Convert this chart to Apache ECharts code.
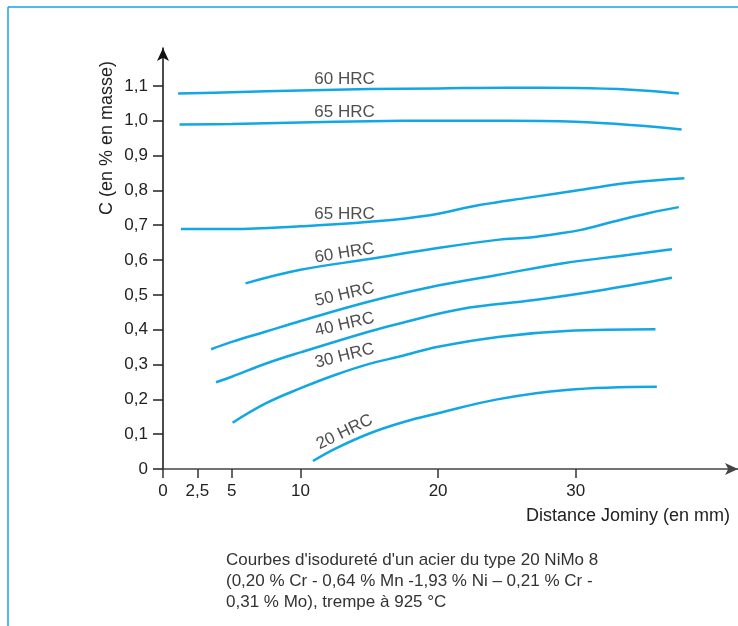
<!DOCTYPE html>
<html>
<head>
<meta charset="utf-8">
<script src="https://cdn.jsdelivr.net/npm/echarts@6/dist/echarts.min.js"></script>
<style>
html,body{margin:0;padding:0;background:#fff;}
#chart{width:738px;height:626px;}
</style>
</head>
<body>
<div id="chart"></div>
<script>
// ---- data (x: Jominy distance in mm, y: C in % mass) ----
var curve60Top = [[1.1,1.078],[5,1.082],[10,1.087],[15,1.091],[20,1.093],[25,1.095],[30,1.094],[34,1.089],[37.5,1.078]];
var curve65Top = [[1.2,0.989],[5,0.991],[10,0.995],[15,0.999],[20,1.0],[25,1.0],[30,0.997],[34,0.988],[37.7,0.975]];
var curve65Low = [[1.3,0.689],[5,0.689],[10,0.697],[15,0.71],[19.4,0.729],[23,0.758],[26.7,0.78],[30.3,0.801],[33.9,0.822],[37.9,0.835]];
var curve60Low = [[6,0.533],[10,0.572],[15,0.603],[19.4,0.631],[24.3,0.658],[26.7,0.665],[28.6,0.675],[30.3,0.686],[32.7,0.71],[35.2,0.734],[37.5,0.752]];
var curve50 = [[3.5,0.344],[5,0.365],[7.5,0.395],[10,0.425],[15,0.481],[19.4,0.522],[24.3,0.557],[29.1,0.591],[33.9,0.615],[37,0.631]];
var curve40 = [[3.85,0.249],[5,0.265],[7.5,0.303],[10,0.335],[15,0.395],[17.2,0.418],[21.6,0.459],[27,0.485],[31.5,0.511],[37,0.549]];
var curve30 = [[5.06,0.133],[7.5,0.189],[10,0.232],[12.5,0.27],[15,0.302],[17.2,0.323],[20,0.351],[24.5,0.38],[29.3,0.396],[35.8,0.401]];
var curve20 = [[10.9,0.023],[12.5,0.058],[15,0.102],[17.5,0.135],[20,0.16],[24.3,0.2],[29.3,0.227],[35.9,0.236]];

var xTicks = [0, 2.5, 5, 10, 20, 30];
var yTicks = [0, 0.1, 0.2, 0.3, 0.4, 0.5, 0.6, 0.7, 0.8, 0.9, 1.0, 1.1];

// curve labels (text, anchor x, anchor y, angle)
var labelTexts = ['60 HRC','65 HRC','65 HRC','60 HRC','50 HRC','40 HRC','30 HRC','20 HRC'];
var labelX = [13.2, 13.2, 13.2, 13.2, 13.2, 13.2, 13.2, 13.2];
var labelY = [1.118, 1.024, 0.731, 0.62, 0.501, 0.415, 0.325, 0.106];
var labelAngles = [0, 0, 0, 9, 13, 13, 14, 26];

var xAxisName = 'Distance Jominy (en mm)';
var yAxisName = 'C (en % en masse)';
var caption = "Courbes d'isodureté d'un acier du type 20 NiMo 8\n(0,20 % Cr - 0,64 % Mn -1,93 % Ni – 0,21 % Cr -\n0,31 % Mo), trempe à 925 °C";

// ---- chart ----
var FONT = '"Liberation Sans", Arial, sans-serif';
var LINE = '#12a7e3';
var curves = [curve60Top, curve65Top, curve65Low, curve60Low, curve50, curve40, curve30, curve20];

var series = curves.map(function (c) {
  return {
    type: 'line', data: c, smooth: 0.4, showSymbol: false, silent: true,
    lineStyle: { color: LINE, width: 2.5 }, z: 2
  };
});
series.push({
  type: 'scatter', symbolSize: 0, silent: true, z: 3,
  data: labelTexts.map(function (t, i) { return { value: [labelX[i], labelY[i]], name: t, label: { rotate: labelAngles[i] } }; }),
  label: { show: true, position: 'inside', formatter: '{b}', color: '#222', fontSize: 17, fontFamily: FONT }
});

var chart = echarts.init(document.getElementById('chart'), null, { renderer: 'canvas' });
chart.setOption({
  animation: false,
  backgroundColor: '#fff',
  grid: { left: 163, right: 0, top: 48, bottom: 157, containLabel: false },
  xAxis: {
    type: 'value', min: 0, max: 41.8,
    axisLine: { show: true, onZero: false, symbol: ['none', 'arrow'], symbolSize: [9, 13], lineStyle: { color: '#444', width: 1.5 } },
    axisTick: { show: true, inside: false, length: 9, customValues: xTicks, lineStyle: { color: '#333', width: 1.5 } },
    axisLabel: { show: true, customValues: xTicks, margin: 14, color: '#222', fontSize: 17, fontFamily: FONT,
      formatter: function (v) { return String(v).replace('.', ','); } },
    splitLine: { show: false }
  },
  yAxis: {
    type: 'value', min: 0, max: 1.209,
    axisLine: { show: true, onZero: false, symbol: ['none', 'arrow'], symbolSize: [9, 13], lineStyle: { color: '#111', width: 1.5 } },
    axisTick: { show: true, inside: false, length: 10, customValues: yTicks, lineStyle: { color: '#222', width: 1.5 } },
    axisLabel: { show: true, customValues: yTicks, margin: 15, color: '#222', fontSize: 17, fontFamily: FONT,
      formatter: function (v) { return v === 0 ? '0' : v.toFixed(1).replace('.', ','); } },
    splitLine: { show: false }
  },
  series: series,
  graphic: [
    { type: 'line', shape: { x1: 8, y1: 7, x2: 738, y2: 7 }, style: { stroke: '#1aa3df', lineWidth: 1.5 } },
    { type: 'line', shape: { x1: 8, y1: 7, x2: 8, y2: 626 }, style: { stroke: '#1aa3df', lineWidth: 1.5 } },
    { type: 'text', x: 107, y: 138, rotation: Math.PI / 2,
      style: { text: yAxisName, fill: '#222', font: '18px ' + FONT, textAlign: 'center', textVerticalAlign: 'middle' } },
    { type: 'text', x: 730, y: 516,
      style: { text: xAxisName, fill: '#222', font: '18px ' + FONT, textAlign: 'right', textVerticalAlign: 'middle' } },
    { type: 'text', x: 226, y: 550,
      style: { text: caption, fill: '#333', font: '17px ' + FONT, lineHeight: 21, textAlign: 'left', textVerticalAlign: 'top' } }
  ]
});
</script>
</body>
</html>
